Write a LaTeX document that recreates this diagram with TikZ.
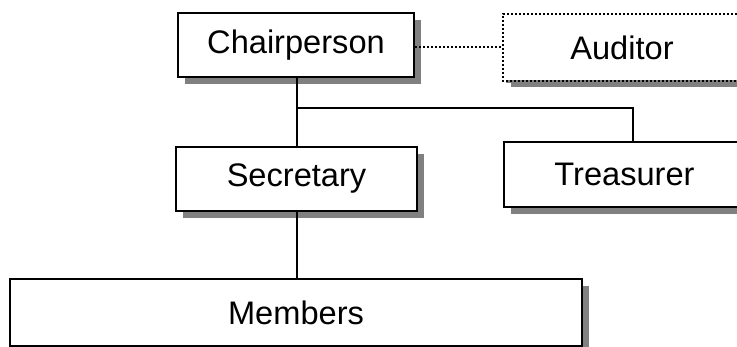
\documentclass[tikz,border=0pt]{standalone}
\usepackage{fontspec}
\setmainfont{Liberation Sans}
\usetikzlibrary{shadows}
\begin{document}
\begin{tikzpicture}[x=0.5pt,y=-0.5pt,
    post/.style={draw,rectangle,line width=1pt,fill=white,inner sep=0pt,
        font=\fontsize{16.3}{19}\selectfont,
        drop shadow={shadow xshift=3.5pt,shadow yshift=-3.5pt,fill=black!50,opacity=1}},
    link/.style={line width=0.75pt}]
    \useasboundingbox (0,0) rectangle (737,347);
    \node [post,minimum width=118pt,minimum height=32pt] (chair) at (296,45) {Chairperson};
    \node [post,draw=none,minimum width=118pt,minimum height=32.5pt,
        drop shadow={shadow xshift=1pt,shadow yshift=-1.5pt,fill=black!50,opacity=1}] (aud) at (622,47.5) {Auditor};
    \draw [line width=1pt,dash pattern=on 1pt off 1pt] (aud.north east) -- (aud.north west) -- (aud.south west) -- (aud.south east);
    \node [post,minimum width=120.5pt,minimum height=32pt] (sec) at (296.5,179) {Secretary};
    \node [post,minimum width=120.5pt,minimum height=32.5pt] (treas) at (624.5,174.5) {Treasurer};
    \node [post,minimum width=286pt,minimum height=33.5pt] (mem) at (296,312.5) {Members};
    \coordinate (fork) at (297,108);
    \coordinate (bend) at (633,108);
    \draw [link] (chair.south -| fork) -- (sec.north -| fork);
    \draw [link] (fork) -- (bend) -- (bend |- treas.north);
    \draw [link] (sec.south -| fork) -- (mem.north -| fork);
    \draw [line width=1pt,dash pattern=on 1pt off 1pt] (chair.east |- aud.west) -- (aud.west);
\end{tikzpicture}
\end{document}
